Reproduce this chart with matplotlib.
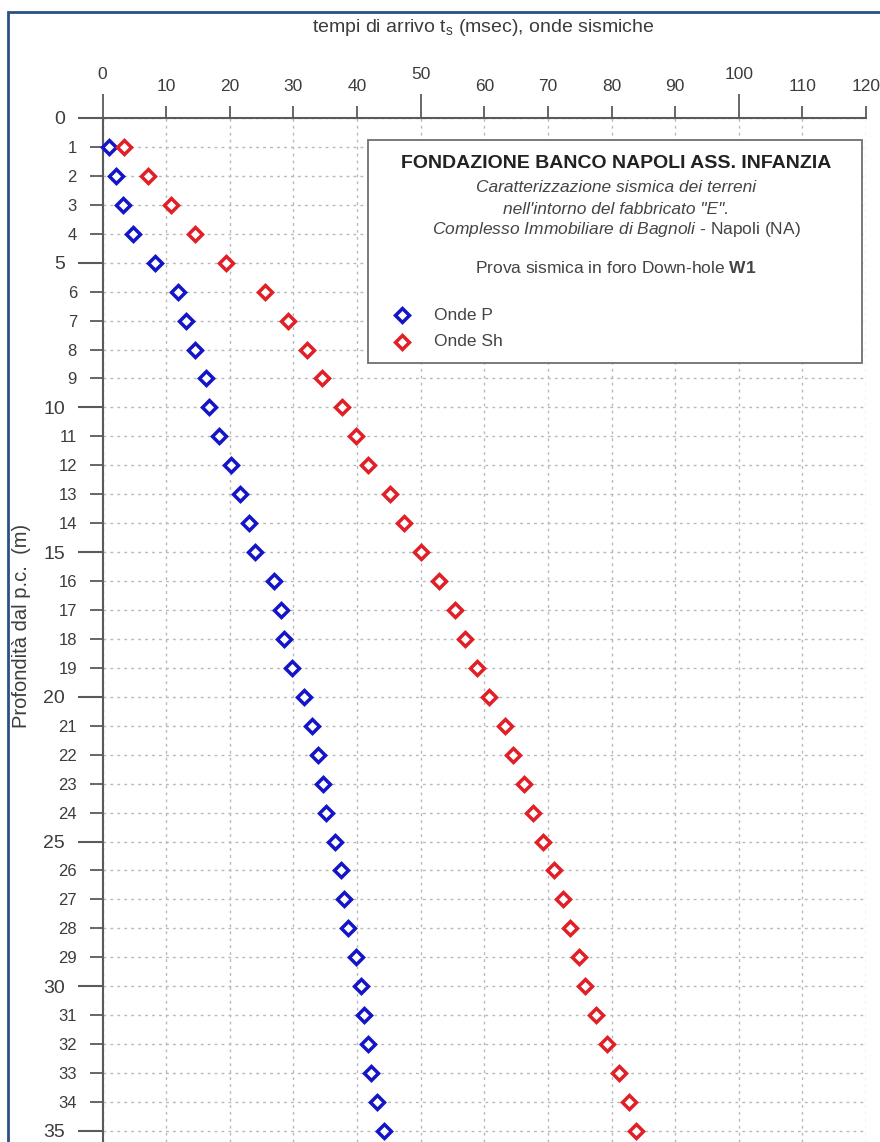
import matplotlib
matplotlib.use("Agg")
import matplotlib.pyplot as plt
from matplotlib.patches import Rectangle
from matplotlib.lines import Line2D

plt.rcParams['font.family'] = ['Liberation Sans', 'DejaVu Sans']
plt.rcParams['mathtext.fontset'] = 'custom'
plt.rcParams['mathtext.rm'] = 'Liberation Sans'
plt.rcParams['mathtext.it'] = 'Liberation Sans:italic'
plt.rcParams['mathtext.bf'] = 'Liberation Sans:bold'

# ---- data ----
depth = [1, 2, 3, 4, 5, 6, 7, 8, 9, 10, 11, 12, 13, 14, 15, 16, 17, 18, 19, 20,
         21, 22, 23, 24, 25, 26, 27, 28, 29, 30, 31, 32, 33, 34, 35]
t_p = [1.0, 2.2, 3.2, 4.8, 8.2, 11.9, 13.2, 14.5, 16.2, 16.8, 18.3, 20.2, 21.6,
       23.0, 23.9, 27.0, 28.1, 28.5, 29.8, 31.7, 32.9, 33.8, 34.7, 35.2, 36.5,
       37.5, 38.0, 38.6, 39.8, 40.6, 41.1, 41.7, 42.2, 43.1, 44.2]
t_sh = [3.4, 7.2, 10.8, 14.6, 19.4, 25.6, 29.2, 32.2, 34.5, 37.7, 39.9, 41.8,
        45.2, 47.4, 50.0, 52.9, 55.4, 56.9, 58.9, 60.7, 63.3, 64.5, 66.3, 67.7,
        69.2, 71.0, 72.3, 73.4, 74.9, 75.8, 77.6, 79.3, 81.2, 82.8, 83.8]
series_names = ["Onde P", "Onde Sh"]
series_colors = ["#1414c8", "#e21e26"]

x_major = [0, 50, 100]
x_minor = [10, 20, 30, 40, 60, 70, 80, 90, 110, 120]
y_major = [0, 5, 10, 15, 20, 25, 30, 35]
y_minor = [1, 2, 3, 4, 6, 7, 8, 9, 11, 12, 13, 14, 16, 17, 18, 19, 21, 22, 23,
           24, 26, 27, 28, 29, 31, 32, 33, 34]

W, H = 880, 1142
fig = plt.figure(figsize=(W / 100, H / 100), dpi=100)
fig.patch.set_facecolor('white')

ax_left, ax_right = 102.5, 866.0
ax_top = 118.0
px_per_m = 28.94
ax = fig.add_axes([ax_left / W, 0, (ax_right - ax_left) / W, (H - ax_top) / H])
ax.set_xlim(0, 120)
ax.set_ylim((H - ax_top) / px_per_m, 0)

axis_col = '#5a5a5a'
for s in ['right', 'bottom']:
    ax.spines[s].set_visible(False)
for s in ['left', 'top']:
    ax.spines[s].set_color(axis_col)
    ax.spines[s].set_linewidth(1.5)

ax.xaxis.tick_top()
ax.set_xticks(x_major)
ax.set_xticklabels([str(v) for v in x_major])
ax.set_xticks(x_minor, minor=True)
ax.set_xticklabels([str(v) for v in x_minor], minor=True)
ax.set_yticks(y_major)
ax.set_yticklabels([str(v) for v in y_major])
ax.set_yticks(y_minor, minor=True)
ax.set_yticklabels([str(v) for v in y_minor], minor=True)

lab_col = '#3c3c3c'
ax.tick_params(axis='x', which='major', length=17, width=1.3, pad=9,
               labelsize=12.5, colors=axis_col, labelcolor=lab_col)
ax.tick_params(axis='x', which='minor', length=8.6, width=1.3, pad=9,
               labelsize=12.5, colors=axis_col, labelcolor=lab_col)
ax.tick_params(axis='y', which='major', length=18, width=1.5, pad=9,
               labelsize=14, colors=axis_col, labelcolor=lab_col)
ax.tick_params(axis='y', which='minor', length=9.4, width=1.3, pad=9,
               labelsize=12, colors=axis_col, labelcolor=lab_col)

ax.grid(True, which='both', color='#b8b8b8', linewidth=1.0,
        linestyle=(0, (2, 3)))
ax.set_axisbelow(True)

handles = []
for vals, name, col in zip([t_p, t_sh], series_names, series_colors):
    ln, = ax.plot(vals, depth, linestyle='none', marker='D', markersize=7,
                  markerfacecolor='white', markeredgecolor=col,
                  markeredgewidth=2.5, clip_on=False, zorder=3, label=name)
    handles.append(ln)

# axis titles
fig.text(483 / W, 1 - 27 / H, r"tempi di arrivo $\mathregular{t_s}$ (msec), onde sismiche",
         ha='center', va='center', fontsize=14, color=lab_col)
fig.text(22 / W, 1 - 626 / H, "Profondità dal p.c.  (m)", rotation=90,
         ha='center', va='center', fontsize=14.5, color=lab_col)

# info / legend box
bx0, bx1, by0, by1 = 368, 862, 140, 363
fig.patches.append(Rectangle((bx0 / W, 1 - by1 / H), (bx1 - bx0) / W, (by1 - by0) / H,
                             transform=fig.transFigure, facecolor='white',
                             edgecolor='#707070', linewidth=1.3, zorder=5))
cx = 616 / W
fig.text(cx, 1 - 163 / H, "FONDAZIONE BANCO NAPOLI ASS. INFANZIA", ha='center',
         va='center', fontsize=14, fontweight='bold', color='#222222', zorder=6)
fig.text(cx, 1 - 187 / H, "Caratterizzazione sismica dei terreni", ha='center',
         va='center', fontsize=12.5, style='italic', color='#444444', zorder=6)
fig.text(cx, 1 - 209 / H, "nell'intorno del fabbricato \"E\".", ha='center',
         va='center', fontsize=12.5, style='italic', color='#444444', zorder=6)
fig.text(cx, 1 - 230 / H,
         r"$\it{Complesso\ Immobiliare\ di\ Bagnoli}$ - Napoli (NA)",
         ha='center', va='center', fontsize=12.5, color='#444444', zorder=6)
fig.text(cx, 1 - 268 / H, r"Prova sismica in foro Down-hole $\bf{W1}$",
         ha='center', va='center', fontsize=12.5, color='#444444', zorder=6)

for i, h in enumerate(handles):
    yy = 1 - (315 + 27 * i) / H
    fig.lines.append(Line2D([402 / W], [yy], transform=fig.transFigure,
                            linestyle='none', marker='D', markersize=7,
                            markerfacecolor='white',
                            markeredgecolor=h.get_markeredgecolor(),
                            markeredgewidth=2.5, zorder=6))
    fig.text(434 / W, yy, h.get_label(), ha='left', va='center', fontsize=12.5,
             color='#444444', zorder=6)

# outer blue frame (cropped at right/bottom)
fig.patches.append(Rectangle((8 / W, -0.05), 1.2, 1 - 12 / H + 0.05,
                             transform=fig.transFigure, fill=False,
                             edgecolor='#2b4f8a', linewidth=2, zorder=10))

fig.savefig("out.png", dpi=100, facecolor='white')
